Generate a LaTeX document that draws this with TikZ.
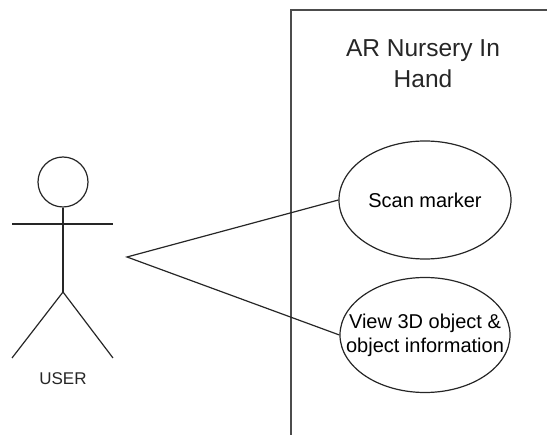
\documentclass[tikz,border=0pt]{standalone}
\usepackage{fontspec}
\setmainfont{Liberation Sans}
\usepackage{tikz}
\usetikzlibrary{positioning,shapes.geometric}
\tikzset{
  stroke/.style={line width=1.2pt,draw=black!85},
  usecase/.style={ellipse,stroke,inner xsep=-30pt,inner ysep=-10pt,
                  align=center,font=\fontsize{20}{24}\selectfont},
  headc/.style={circle,stroke,inner sep=0pt,minimum size=50pt},
  boundary/.style={line width=1.3pt,draw=black!70},
}

\begin{document}
\begin{tikzpicture}[x=1pt,y=-1pt]
  \useasboundingbox (0,0) rectangle (547,435);
  % system boundary
  \coordinate (sysTR) at (547,10);
  \coordinate (sysBL) at (291,435);
  \draw[boundary] (sysTR) -| (sysBL);
  \node[align=center,font=\fontsize{24.5}{31}\selectfont,text=black!85]
    (title) at (423,64) {AR Nursery In\\Hand};
  % actor
  \node[headc] (head) at (63,182) {};
  \coordinate (armL) at (12,224);
  \coordinate (armR) at (113,224);
  \coordinate (hip) at (63,292);
  \coordinate (footL) at (12,358);
  \coordinate (footR) at (113,358);
  \draw[stroke] (head.south) -- (hip);
  \draw[stroke] (armL) -- (armR);
  \draw[stroke] (footL) -- (hip) -- (footR);
  \node[font=\fontsize{17}{20}\selectfont,text=black!85]
    (user) at (63,379) {USER};
  % use cases
  \node[usecase,minimum width=172pt,minimum height=118pt]
    (scan) at (425,200) {Scan marker};
  \node[usecase,minimum width=170pt,minimum height=115pt]
    (view) at (425,335) {View 3D object \&\\object information};
  \coordinate (apex) at (127,257);
  \draw[stroke] (scan.west) -- (apex) -- (view.west);
\end{tikzpicture}
\end{document}
